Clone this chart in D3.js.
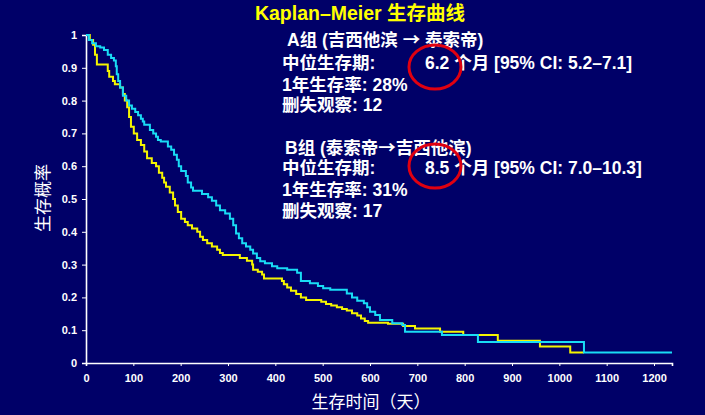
<!DOCTYPE html>
<html><head><meta charset="utf-8">
<script src="https://cdn.jsdelivr.net/npm/d3@7"></script>
<style>html,body{margin:0;padding:0;background:#000068;}svg{display:block;}</style>
</head><body>
<svg id="c" width="705" height="415"></svg>
<script>
// Group A (yellow): step times (days) and survival after each step
const groupATimes = [0,8,15,19,23,46,49,57,61,72,78,82,87,91,95,101,108,116,123,129,139,148,154,161,165,169,177,184,188,194,201,209,215,224,235,241,247,256,266,277,283,289,325,340,351,353,363,372,376,414,418,425,433,444,454,465,497,507,518,530,541,551,562,573,581,589,596,638,670,695,748,797,870,959,1023,1052];
const groupASurv  = [1,0.985,0.97,0.94,0.91,0.89,0.873,0.86,0.85,0.84,0.82,0.80,0.78,0.75,0.72,0.70,0.68,0.665,0.645,0.624,0.61,0.60,0.58,0.565,0.55,0.537,0.52,0.50,0.48,0.46,0.44,0.43,0.42,0.41,0.40,0.385,0.375,0.365,0.355,0.345,0.335,0.329,0.32,0.312,0.30,0.284,0.278,0.27,0.258,0.25,0.24,0.23,0.22,0.21,0.20,0.192,0.187,0.18,0.175,0.17,0.165,0.16,0.152,0.145,0.136,0.128,0.123,0.12,0.113,0.105,0.095,0.085,0.068,0.05,0.032,0.032];
// Group B (cyan)
const groupBTimes = [0,6,13,21,30,38,46,53,59,63,65,68,72,78,85,91,97,104,110,116,120,123,135,142,148,152,158,173,180,186,192,196,201,211,215,222,226,245,258,266,275,283,294,304,311,317,323,330,338,347,353,361,368,378,393,404,425,446,454,473,490,501,516,551,562,573,587,594,600,611,621,647,668,674,752,828,1052,1238];
const groupBSurv  = [1,0.985,0.975,0.966,0.962,0.954,0.94,0.93,0.922,0.905,0.88,0.86,0.84,0.815,0.80,0.785,0.775,0.765,0.755,0.745,0.736,0.726,0.71,0.70,0.69,0.68,0.675,0.66,0.65,0.635,0.62,0.60,0.585,0.57,0.55,0.535,0.525,0.515,0.505,0.495,0.48,0.466,0.456,0.44,0.42,0.395,0.38,0.365,0.355,0.345,0.334,0.32,0.31,0.304,0.295,0.289,0.284,0.275,0.25,0.243,0.235,0.228,0.223,0.212,0.20,0.19,0.182,0.17,0.156,0.146,0.131,0.121,0.116,0.095,0.085,0.064,0.032,0.032];
const xTicks = [0,100,200,300,400,500,600,700,800,900,1000,1100,1200];
const yTicks = [0,0.1,0.2,0.3,0.4,0.5,0.6,0.7,0.8,0.9,1];
const title = "Kaplan\u2013Meier 生存曲线";
const xLabel = "生存时间（天）";
const yLabel = "生存概率";

const svg = d3.select("#c");
const FONT = "'Liberation Sans','Noto Sans CJK SC',Arial,sans-serif";
const CJK = "'Noto Sans CJK SC',sans-serif";
svg.append("rect").attr("width",705).attr("height",415).attr("fill","#000068");

const x = d3.scaleLinear().domain([0,1238]).range([86,672]);
const y = d3.scaleLinear().domain([0,1]).range([363,35]);

// axes
const xAxis = svg.append("g").attr("transform","translate(0,363)")
  .call(d3.axisBottom(x).tickValues(xTicks).tickSize(3).tickPadding(8).tickFormat(d3.format("d")));
const yAxis = svg.append("g").attr("transform","translate(86,0)")
  .call(d3.axisLeft(y).tickValues(yTicks).tickSize(4).tickPadding(5).tickFormat(d=>d===0?"0":(d===1?"1":d3.format(".1f")(d))));
[xAxis,yAxis].forEach(g=>{
  g.select(".domain").attr("stroke","#fff").attr("stroke-width",1.6);
  g.selectAll(".tick line").attr("stroke","#fff").attr("stroke-width",1);
  g.selectAll(".tick text").attr("fill","#fff").attr("font-family",FONT)
    .attr("font-weight","bold").attr("font-size",11);
});

// curves
const line = d3.line().x(d=>x(d[0])).y(d=>y(d[1])).curve(d3.curveStepAfter);
const dataA = groupATimes.map((t,i)=>[t,groupASurv[i]]);
const dataB = groupBTimes.map((t,i)=>[t,groupBSurv[i]]);
svg.append("path").datum(dataA).attr("d",line).attr("fill","none")
  .attr("stroke","#f5f500").attr("stroke-width",2);
svg.append("path").datum(dataB).attr("d",line).attr("fill","none")
  .attr("stroke","#19dcf5").attr("stroke-width",2);

// title
svg.append("text").attr("x",360).attr("y",20).attr("text-anchor","middle")
  .attr("fill","#ffff00").attr("font-family",FONT).attr("font-weight","bold")
  .attr("font-size",19.5).text(title);

// axis labels
svg.append("text").attr("x",371).attr("y",408).attr("text-anchor","middle")
  .attr("fill","#fff").attr("font-family",FONT).attr("font-size",17).text(xLabel);
svg.append("text").attr("transform","translate(49,198) rotate(-90)").attr("text-anchor","middle")
  .attr("fill","#fff").attr("font-family",FONT).attr("font-size",17).text(yLabel);

// annotations: parts [text, useCJKfont]
const ann = [
  {x:287,y:46,p:[["A组 (吉西他滨 ",0],["\u2192",1],[" 泰索帝)",0]]},
  {x:282,y:69,p:[["中位生存期:",0]]},
  {x:425,y:69,p:[["6.2 个月 [95% CI: 5.2\u20137.1]",0]]},
  {x:282,y:91,p:[["1年生存率: 28%",0]]},
  {x:282,y:111,p:[["删失观察: 12",0]]},
  {x:285,y:154,p:[["B组 (泰索帝",0],["\u2192",1],["吉西他滨)",0]]},
  {x:282,y:174,p:[["中位生存期:",0]]},
  {x:425,y:174,p:[["8.5 个月 [95% CI: 7.0\u201310.3]",0]]},
  {x:282,y:196,p:[["1年生存率: 31%",0]]},
  {x:282,y:217,p:[["删失观察: 17",0]]}
];
const at = svg.selectAll("text.ann").data(ann).enter().append("text").attr("class","ann")
  .attr("x",d=>d.x).attr("y",d=>d.y).attr("fill","#fff").attr("font-family",FONT)
  .attr("font-weight","bold").attr("font-size",17.5);
at.selectAll("tspan").data(d=>d.p).enter().append("tspan")
  .attr("font-family",d=>d[1]?CJK:FONT).text(d=>d[0]);

// red circles
[[435,67],[435,166]].forEach(c=>{
  svg.append("ellipse").attr("cx",c[0]).attr("cy",c[1]).attr("rx",26).attr("ry",22)
    .attr("fill","none").attr("stroke","#e00010").attr("stroke-width",3);
});
</script>
</body></html>
